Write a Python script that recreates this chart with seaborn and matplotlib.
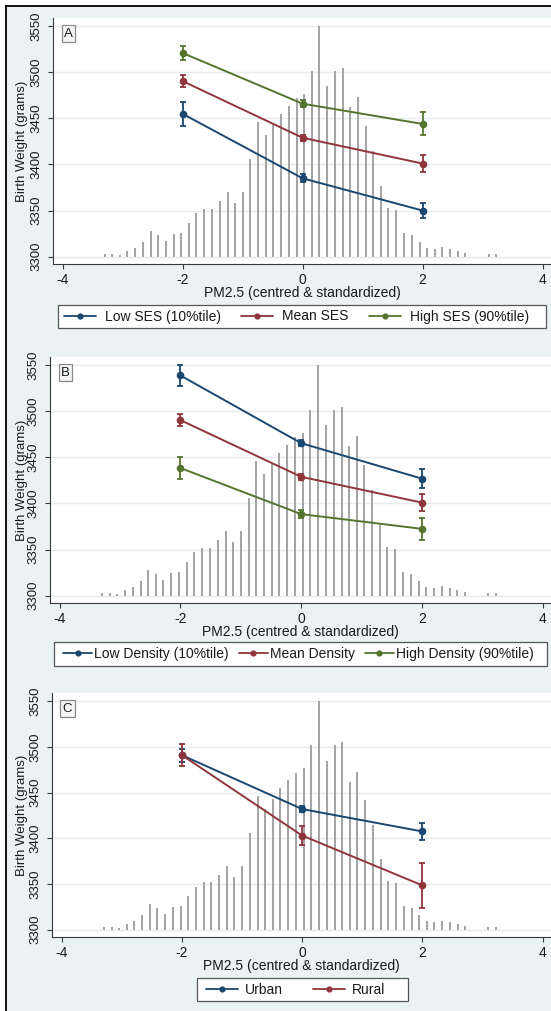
import numpy as np
import pandas as pd
import matplotlib
matplotlib.use("Agg")
import matplotlib.pyplot as plt
from matplotlib.lines import Line2D
from matplotlib.patches import Rectangle
import seaborn as sns

# ---------------------------------------------------------------------------
# Data
# ---------------------------------------------------------------------------
# Distribution of standardised PM2.5 drawn as spikes on the birth-weight scale
pm25_bins = [-3.30, -3.17, -3.05, -2.92, -2.79, -2.66, -2.53, -2.41, -2.28, -2.15,
             -2.02, -1.89, -1.77, -1.64, -1.51, -1.38, -1.25, -1.13, -1.00, -0.87,
             -0.74, -0.61, -0.49, -0.36, -0.23, -0.10, 0.03, 0.15, 0.28, 0.41,
             0.54, 0.67, 0.79, 0.92, 1.05, 1.18, 1.31, 1.43, 1.56, 1.69,
             1.82, 1.95, 2.07, 2.20, 2.33, 2.46, 2.59, 2.71, 3.10, 3.23]
pm25_spike_top = [3302.5, 3303, 3302, 3306, 3309, 3316, 3328, 3324, 3317, 3325,
                  3326, 3337, 3347, 3352, 3352, 3360, 3370, 3358, 3370, 3406,
                  3446, 3432, 3443, 3455, 3464, 3472, 3477, 3502, 3550, 3485,
                  3502, 3505, 3462, 3473, 3442, 3415, 3377, 3353, 3351, 3326,
                  3324, 3316, 3309, 3308, 3310, 3308, 3306, 3304, 3302.5, 3302.5]
spike_base = 3300

pm25_levels = [-2, 0, 2]

# Panel A: socio-economic status
ses_labels = ["Low SES (10%tile)", "Mean SES", "High SES (90%tile)"]
ses_low = [3455, 3385, 3350]
ses_low_ci = [13, 4.5, 8.5]
ses_mean = [3490.5, 3429, 3401]
ses_mean_ci = [6.5, 3, 9]
ses_high = [3521, 3466, 3444]
ses_high_ci = [8, 4, 12.5]

# Panel B: population density
dens_labels = ["Low Density (10%tile)", "Mean Density", "High Density (90%tile)"]
dens_low = [3539, 3465.5, 3427]
dens_low_ci = [11.5, 3.5, 10.5]
dens_mean = [3490.5, 3429, 3401]
dens_mean_ci = [6.5, 3, 9]
dens_high = [3438.5, 3388.5, 3372.5]
dens_high_ci = [11.5, 4, 12]

# Panel C: urban / rural
area_labels = ["Urban", "Rural"]
urban = [3491, 3432, 3407.5]
urban_ci = [7, 3, 9]
rural = [3491, 3403, 3348.5]
rural_ci = [12, 10, 25]

# ---------------------------------------------------------------------------
# Style
# ---------------------------------------------------------------------------
NAVY, MAROON, GREEN = "#1a476f", "#90353b", "#55752f"
BG = "#eaf2f3"
SPIKE = "#9c9c9c"
TXT = "#1a1a1a"

sns.set_theme(style="white")
plt.rcParams["font.family"] = ["Liberation Sans", "DejaVu Sans"]
plt.rcParams["axes.unicode_minus"] = False

W, H = 551, 1011
fig = plt.figure(figsize=(W / 100, H / 100), dpi=100)
fig.patch.set_facecolor("white")

# light graph region inside the outer frame
fig.add_artist(Rectangle((6 / W, 0), 1 - 6 / W, 1 - 6 / H, transform=fig.transFigure,
                         facecolor=BG, edgecolor="none", zorder=-5))
fig.add_artist(Line2D([5.5 / W, 5.5 / W], [0, 1 - 5.5 / H], transform=fig.transFigure,
                      color="black", lw=1.3, zorder=10))
fig.add_artist(Line2D([5.5 / W, 1], [1 - 5.5 / H, 1 - 5.5 / H], transform=fig.transFigure,
                      color="black", lw=1.3, zorder=10))

XLIM = (-4.16, 4.14)
YLIM = (3292, 3559)


def make_panel(left_px, top_px, bottom_px, letter, series, labels, colors,
               legend_box, legend_start, handletextpad, columnspacing, handlelength):
    ax = fig.add_axes([left_px / W, 1 - bottom_px / H, (W - left_px) / W,
                       (bottom_px - top_px) / H])
    ax.set_facecolor("white")
    ax_w = W - left_px
    ax_h = bottom_px - top_px

    # PM2.5 distribution spikes
    ax.vlines(pm25_bins, spike_base, pm25_spike_top, color=SPIKE, lw=1.3, zorder=1)

    # predicted birth weight lines
    frames = []
    for (vals, ci), lab in zip(series, labels):
        frames.append(pd.DataFrame({"pm25": pm25_levels, "bw": vals, "group": lab}))
    df = pd.concat(frames, ignore_index=True)
    sns.lineplot(data=df, x="pm25", y="bw", hue="group", hue_order=labels,
                 palette=dict(zip(labels, colors)), marker="o", markersize=5.5,
                 markeredgewidth=0, lw=1.4, legend=False, ax=ax, zorder=3)
    for (vals, ci), c in zip(series, colors):
        ax.errorbar(pm25_levels, vals, yerr=ci, fmt="none", ecolor=c, elinewidth=1.3,
                    capsize=2.5, capthick=1.3, zorder=3)

    ax.set_xlim(*XLIM)
    ax.set_ylim(*YLIM)
    ax.set_xticks([-4, -2, 0, 2, 4])
    ax.set_yticks([3300, 3350, 3400, 3450, 3500, 3550])
    ax.yaxis.grid(True, color="#e4ecee", lw=1.0)
    ax.xaxis.grid(False)
    ax.set_axisbelow(True)
    for s in ("top", "right"):
        ax.spines[s].set_visible(False)
    for s in ("left", "bottom"):
        ax.spines[s].set_color("#3a3a3a")
        ax.spines[s].set_linewidth(0.8)

    ax.tick_params(axis="both", direction="out", length=3.5, width=0.8, color="#3a3a3a",
                   bottom=True, left=True)
    ax.tick_params(axis="x", labelsize=10, pad=3.0, labelcolor=TXT)
    ax.tick_params(axis="y", labelsize=9.5, pad=4.0, labelrotation=90, labelcolor=TXT)
    for lbl in ax.get_yticklabels():
        lbl.set_va("center")

    ax.set_xlabel("PM2.5 (centred & standardized)", fontsize=10, color=TXT)
    ax.set_ylabel("Birth Weight (grams)", fontsize=9.5, color=TXT)
    ax.xaxis.set_label_coords(0.5, -22 / ax_h)
    ax.yaxis.set_label_coords(-(left_px - 28) / ax_w, 0.5)

    # panel letter
    ax.text(15.5 / ax_w, 1 - 15.5 / ax_h, letter, transform=ax.transAxes, fontsize=9.5,
            ha="center", va="center", color=TXT,
            bbox=dict(boxstyle="square,pad=0.18", facecolor="#f4f6f6", edgecolor="#8a8a8a",
                      lw=0.9))

    # legend box and entries
    x0, y0, x1, y1 = legend_box
    fig.add_artist(Rectangle((x0 / W, 1 - y1 / H), (x1 - x0) / W, (y1 - y0) / H,
                             transform=fig.transFigure, facecolor="white",
                             edgecolor="#555555", lw=0.9, zorder=1))
    handles = [Line2D([], [], color=c, lw=1.3, marker="o", markersize=4.5,
                      markeredgewidth=0) for c in colors]
    fig.legend(handles, labels, loc="center left",
               bbox_to_anchor=(legend_start / W, 1 - (y0 + y1) / 2 / H),
               ncol=len(labels), frameon=False, fontsize=10, borderpad=0,
               borderaxespad=0, handlelength=handlelength, handletextpad=handletextpad,
               columnspacing=columnspacing, numpoints=1, labelcolor=TXT)
    return ax


make_panel(53, 18, 264, "A",
           [(ses_low, ses_low_ci), (ses_mean, ses_mean_ci), (ses_high, ses_high_ci)],
           ses_labels, [NAVY, MAROON, GREEN],
           (58, 305, 546, 328), 64, 0.65, 1.45, 2.3)

make_panel(50, 357, 603, "B",
           [(dens_low, dens_low_ci), (dens_mean, dens_mean_ci), (dens_high, dens_high_ci)],
           dens_labels, [NAVY, MAROON, GREEN],
           (54, 642, 547, 666), 63, 0.15, 0.7, 2.1)

make_panel(52, 693, 937, "C",
           [(urban, urban_ci), (rural, rural_ci)],
           area_labels, [NAVY, MAROON],
           (197, 978, 408, 1001), 206, 0.5, 2.15, 2.3)

fig.savefig("out.png", dpi=100, facecolor=fig.get_facecolor())
